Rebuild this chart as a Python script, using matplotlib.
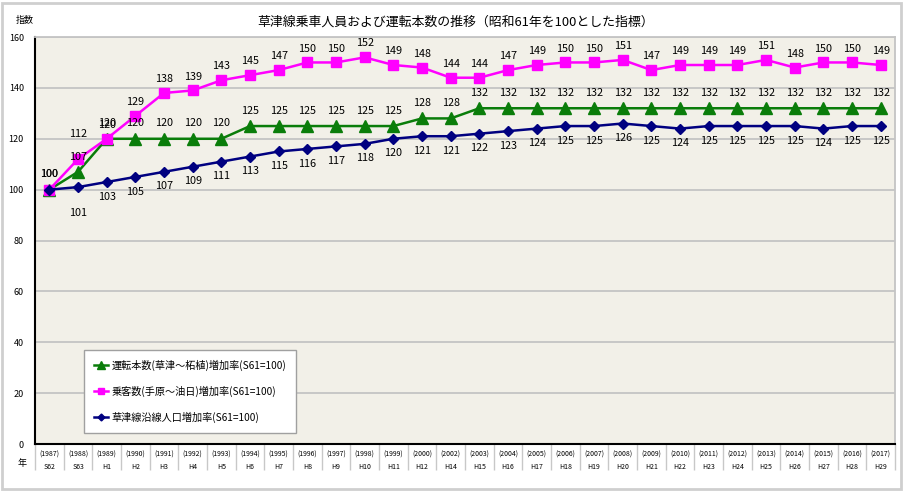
import matplotlib
matplotlib.use("Agg")
import matplotlib.pyplot as plt
from matplotlib.patches import Rectangle
import numpy as np

plt.rcParams['font.family'] = ['Noto Sans CJK JP', 'DejaVu Sans']

# Data
years = ["1987", "1988", "1989", "1990", "1991", "1992", "1993", "1994", "1995", "1996",
         "1997", "1998", "1999", "2000", "2002", "2003", "2004", "2005", "2006", "2007",
         "2008", "2009", "2010", "2011", "2012", "2013", "2014", "2015", "2016", "2017"]
eras = ["S62", "S63", "H1", "H2", "H3", "H4", "H5", "H6", "H7", "H8",
        "H9", "H10", "H11", "H12", "H14", "H15", "H16", "H17", "H18", "H19",
        "H20", "H21", "H22", "H23", "H24", "H25", "H26", "H27", "H28", "H29"]
trains = [100, 107, 120, 120, 120, 120, 120, 125, 125, 125, 125, 125, 125, 128, 128,
          132, 132, 132, 132, 132, 132, 132, 132, 132, 132, 132, 132, 132, 132, 132]
passengers = [100, 112, 120, 129, 138, 139, 143, 145, 147, 150, 150, 152, 149, 148, 144,
              144, 147, 149, 150, 150, 151, 147, 149, 149, 149, 151, 148, 150, 150, 149]
population = [100, 101, 103, 105, 107, 109, 111, 113, 115, 116, 117, 118, 120, 121, 121,
              122, 123, 124, 125, 125, 126, 125, 124, 125, 125, 125, 125, 124, 125, 125]

labels = ["運転本数(草津～柘植)増加率(S61=100)",
          "乗客数(手原～油日)増加率(S61=100)",
          "草津線沿線人口増加率(S61=100)"]

x = np.arange(len(years))

fig = plt.figure(figsize=(9.05, 4.91), dpi=100)
ax = fig.add_axes([0.0387, 0.0957, 0.9503, 0.8289])
ax.set_facecolor('#F2F0E8')

green = '#0A7D0A'
pink = '#FF00FF'
navy = '#000080'

ax.plot(x, trains, color=green, lw=1.8, marker='^', ms=8.5, label=labels[0], zorder=3)
ax.plot(x, passengers, color=pink, lw=1.8, marker='s', ms=6.5, label=labels[1], zorder=3)
ax.plot(x, population, color=navy, lw=1.8, marker='D', ms=5, label=labels[2], zorder=4)

# data labels
for i in range(len(x)):
    p_off = 18 if i == 1 else (11 if i == 0 else 10)
    ax.annotate(str(passengers[i]), (x[i], passengers[i]), xytext=(0, p_off),
                textcoords='offset points', ha='center', va='center', fontsize=7.8)
    ax.annotate(str(trains[i]), (x[i], trains[i]), xytext=(0, 11),
                textcoords='offset points', ha='center', va='center', fontsize=7.8)
    if i > 0:
        ax.annotate(str(population[i]), (x[i], population[i]),
                    xytext=(0, -19 if i == 1 else -10.5), textcoords='offset points',
                    ha='center', va='center', fontsize=7.8)

ax.set_xlim(-0.5, len(x) - 0.5)
ax.set_ylim(0, 160)
ax.set_yticks(np.arange(0, 161, 20))
ax.tick_params(axis='y', length=0, labelsize=6.5, pad=8)
ax.grid(axis='y', color='#C4C4C4', lw=1.3)
ax.set_axisbelow(True)

ax.set_xticks(x)
ax.set_xticklabels([f"({y})\n{e}" for y, e in zip(years, eras)], fontsize=5, linespacing=1.6)
ax.set_xticks(np.arange(-0.5, len(x), 1), minor=True)
ax.tick_params(axis='x', which='major', length=0, pad=5)
ax.tick_params(axis='x', which='minor', length=19, color='#C8C8C8', width=1)

for s in ['top', 'right']:
    ax.spines[s].set_color('#C4C4C4')
    ax.spines[s].set_linewidth(1.3)
ax.spines['left'].set_linewidth(1.5)
ax.spines['bottom'].set_linewidth(1.5)

leg = ax.legend(loc='lower left', bbox_to_anchor=(0.057, 0.027), fontsize=7.3,
                frameon=True, fancybox=False, edgecolor='#A0A0A0', framealpha=1,
                handlelength=1.4, handletextpad=0.3, labelspacing=1.45,
                borderpad=1.0, borderaxespad=0, markerscale=0.7)
leg.get_frame().set_linewidth(1)

fig.text(0.503, 0.955, "草津線乗車人員および運転本数の推移（昭和61年を100とした指標）",
         ha='center', va='center', fontsize=9.3)
fig.text(0.027, 0.958, "指数", ha='center', va='center', fontsize=6.5)
fig.text(0.024, 0.055, "年", ha='center', va='center', fontsize=6.5)

fig.patches.append(Rectangle((0.002, 0.004), 0.994, 0.99, transform=fig.transFigure,
                             fill=False, edgecolor='#CFCFCF', lw=2))

fig.savefig("out.png", dpi=100)
